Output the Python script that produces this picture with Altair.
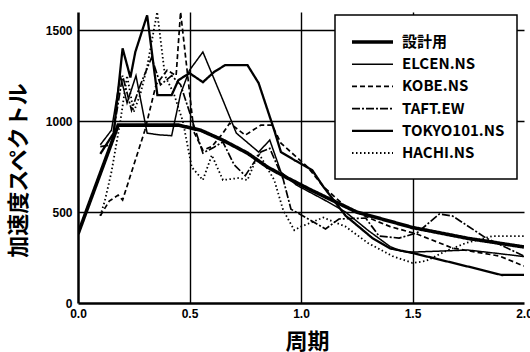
import altair as alt
import pandas as pd

SERIES = ["設計用", "ELCEN.NS", "KOBE.NS", "TAFT.EW", "TOKYO101.NS", "HACHI.NS"]

DESIGN_T = [0.0, 0.18, 0.45, 0.55, 0.65, 0.76, 0.85, 0.94, 1.045, 1.25, 1.5, 1.75, 2.0]
DESIGN_V = [380, 978, 978, 950, 895, 824, 747, 687, 621, 500, 415, 355, 308]

ELCEN_T = [0.1, 0.15, 0.19, 0.22, 0.26, 0.31, 0.36, 0.42, 0.46, 0.5, 0.56, 0.65, 0.71, 0.81, 0.86, 0.91, 0.98,
           1.1, 1.2, 1.3, 1.4, 1.45, 1.5, 1.75, 1.9, 2.0]
ELCEN_V = [870, 950, 1250, 1100, 1250, 934, 925, 920, 1150, 1280, 1380, 1115, 934, 830, 896, 720, 648,
           570, 500, 400, 310, 285, 280, 291, 270, 255]

KOBE_T = [0.1, 0.14, 0.18, 0.2, 0.3, 0.35, 0.4, 0.44, 0.46, 0.52, 0.56, 0.6, 0.65, 0.68, 0.75, 0.82, 0.87, 0.91,
          0.97, 1.03, 1.1, 1.2, 1.3, 1.4, 1.52, 1.68, 1.89, 2.0]
KOBE_V = [480, 560, 593, 566, 950, 1200, 1280, 1250, 1600, 940, 840, 860, 934, 989, 923, 978, 978, 879,
          813, 747, 640, 530, 470, 420, 379, 302, 258, 203]

TAFT_T = [0.1, 0.15, 0.2, 0.24, 0.28, 0.33, 0.37, 0.42, 0.46, 0.5, 0.56, 0.61, 0.65, 0.7, 0.75, 0.82, 0.86, 0.92,
          0.955, 1.11, 1.17, 1.29, 1.35, 1.44, 1.52, 1.62, 1.68, 1.83, 2.0]
TAFT_V = [860, 870, 1250, 1060, 1200, 1350, 1200, 1250, 1200, 1050, 824, 857, 885, 760, 700, 830, 850, 681,
          516, 407, 462, 467, 368, 357, 385, 489, 478, 357, 258]

TOKYO_T = [0.1, 0.16, 0.2, 0.235, 0.257, 0.31, 0.356, 0.42, 0.45, 0.5, 0.56, 0.61, 0.66, 0.76, 0.81, 0.88, 0.91,
           0.97, 1.05, 1.1, 1.2, 1.32, 1.4, 1.5, 1.6, 1.75, 1.9, 2.0]
TOKYO_V = [820, 934, 1400, 1240, 1380, 1582, 1143, 1143, 1225, 1264, 1214, 1270, 1308, 1308, 1209, 950, 830,
           786, 731, 640, 480, 357, 300, 275, 245, 200, 154, 155]

HACHI_T = [0.1, 0.12, 0.15, 0.19, 0.22, 0.25, 0.28, 0.31, 0.355, 0.39, 0.43, 0.47, 0.51, 0.56, 0.6, 0.65, 0.72,
           0.76, 0.81, 0.88, 0.92, 0.97, 1.0, 1.1, 1.2, 1.3, 1.41, 1.5, 1.56, 1.65, 1.74, 1.86, 2.0]
HACHI_V = [480, 560, 720, 1000, 1250, 1050, 1150, 1300, 1600, 1250, 1150, 1000, 747, 676, 813, 676, 687,
           676, 824, 676, 511, 400, 420, 470, 420, 330, 258, 220, 231, 286, 330, 368, 368]

Y_TICKS = [0, 500, 1000, 1500]
X_TICKS = [0.0, 0.5, 1.0, 1.5, 2.0]

DASHES = [[1, 0], [1, 0], [5, 3], [8, 2, 2, 2], [1, 0], [1.5, 2.5]]
WIDTHS = [3.6, 1.5, 1.7, 1.7, 2.3, 1.8]

rows = []
for name, ts, vs in [
    ("設計用", DESIGN_T, DESIGN_V),
    ("ELCEN.NS", ELCEN_T, ELCEN_V),
    ("KOBE.NS", KOBE_T, KOBE_V),
    ("TAFT.EW", TAFT_T, TAFT_V),
    ("TOKYO101.NS", TOKYO_T, TOKYO_V),
    ("HACHI.NS", HACHI_T, HACHI_V),
]:
    for t, v in zip(ts, vs):
        rows.append({"series": name, "T": t, "v": v})
df = pd.DataFrame(rows)
leg = pd.DataFrame({"series": SERIES})

dash_scale = alt.Scale(type="ordinal", domain=SERIES, range=DASHES)
width_scale = alt.Scale(type="ordinal", domain=SERIES, range=WIDTHS)

LAB_FONT = "Liberation Sans"
CJK = "Noto Sans CJK JP"

lines = alt.Chart(df).mark_line(color="black", clip=True, strokeCap="butt").encode(
    x=alt.X("T:Q", scale=alt.Scale(domain=[0, 2], nice=False),
            axis=alt.Axis(values=X_TICKS, format=".1f", title="周期", ticks=False,
                          labelFont=LAB_FONT, labelFontWeight="bold", labelFontSize=12,
                          labelColor="black", labelPadding=5, labelFlush=False,
                          domainColor="black", domainWidth=2.5,
                          grid=True, gridColor="black", gridWidth=1.4,
                          gridOpacity={"condition": {"test": "datum.value >= 2 || datum.value <= 0", "value": 0}, "value": 1},
                          titleFont=CJK, titleFontSize=22, titleFontWeight="bold", titleColor="black",
                          titleX=229, titleY=38, titleBaseline="middle", titleAlign="center")),
    y=alt.Y("v:Q", scale=alt.Scale(domain=[0, 1600], nice=False),
            axis=alt.Axis(values=Y_TICKS, format="d", title="加速度スペクトル", ticks=False,
                          labelFont=LAB_FONT, labelFontWeight="bold", labelFontSize=12,
                          labelColor="black", labelPadding=6,
                          domainColor="black", domainWidth=2.5,
                          grid=True, gridColor="black", gridWidth=1.4,
                          gridOpacity={"condition": {"test": "datum.value <= 0", "value": 0}, "value": 1},
                          titleFont=CJK, titleFontSize=22, titleFontWeight="bold", titleColor="black",
                          titleX=-60, titleY=158, titleBaseline="middle", titleAlign="center", titleAngle=270)),
    strokeDash=alt.StrokeDash("series:N", scale=dash_scale, legend=None),
    strokeWidth=alt.StrokeWidth("series:N", scale=width_scale, legend=None),
    detail="series:N",
)

box = alt.Chart(pd.DataFrame({"a": [0]})).mark_rect(fill="white", stroke="black", strokeWidth=1.5).encode(
    x=alt.value(257), x2=alt.value(439), y=alt.value(3), y2=alt.value(167)
)

leg_y = alt.Y("series:N", sort=SERIES, scale=alt.Scale(type="point", domain=SERIES, range=[30, 141], padding=0), axis=None)

leg_lines = alt.Chart(leg).mark_rule(color="black", strokeCap="butt").encode(
    x=alt.value(274), x2=alt.value(315), y=leg_y,
    strokeDash=alt.StrokeDash("series:N", scale=dash_scale, legend=None),
    strokeWidth=alt.StrokeWidth("series:N", scale=width_scale, legend=None),
)
leg_text = alt.Chart(leg).mark_text(align="left", baseline="middle", font=CJK, fontSize=15,
                                    fontWeight="bold", color="black").encode(
    x=alt.value(324), y=leg_y, text="series:N"
)

legend_layer = alt.layer(box, leg_lines, leg_text)

chart = alt.layer(lines, legend_layer).resolve_scale(y="independent").properties(
    width=446, height=291,
    autosize=alt.AutoSizeParams(type="none"),
    padding={"left": 78, "top": 12, "right": 6, "bottom": 49},
    background="white",
).configure_view(stroke=None)

chart.save("out.html", embed_options={"renderer": "svg", "actions": False})
